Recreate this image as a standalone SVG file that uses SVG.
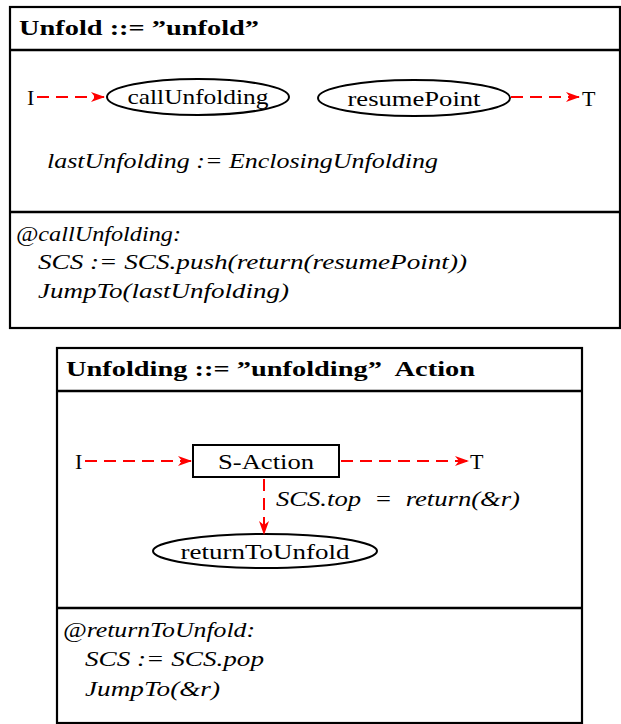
<svg xmlns="http://www.w3.org/2000/svg" width="621" height="724" viewBox="0 0 621 724">
<defs>
<marker id="ah" viewBox="0 0 14 10" refX="13" refY="5" markerWidth="14" markerHeight="10" markerUnits="userSpaceOnUse" orient="auto">
<path d="M0,0 L14,5 L0,10 L4,5 Z" fill="#ff0000"/>
</marker>
</defs>
<style>
.frame{fill:#fff;stroke:#000;stroke-width:2.2}
.sep{stroke:#000;stroke-width:2.4}
.node{fill:#fff;stroke:#000;stroke-width:2}
.t{font-family:'Liberation Serif','DejaVu Serif',serif;font-size:22px;fill:#000}
.b{font-weight:bold}
.i{font-style:italic}
.pre{white-space:pre}
.edge{fill:none;stroke:#ff0000;stroke-width:2;stroke-dasharray:12,7;marker-end:url(#ah)}
</style>
<g id="unfold">
<rect class="frame" x="10" y="7" width="610" height="321"/>
<line class="sep" x1="10" y1="50" x2="620" y2="50"/>
<line class="sep" x1="10" y1="212" x2="620" y2="212"/>
<text class="t b" x="19" y="35" textLength="240" lengthAdjust="spacingAndGlyphs">Unfold ::= ”unfold”</text>
<text class="t i" x="47" y="168" textLength="391" lengthAdjust="spacingAndGlyphs">lastUnfolding := EnclosingUnfolding</text>
<text class="t i" x="16" y="241" textLength="165" lengthAdjust="spacingAndGlyphs">@callUnfolding:</text>
<text class="t i" x="38" y="269" textLength="429" lengthAdjust="spacingAndGlyphs">SCS := SCS.push(return(resumePoint))</text>
<text class="t i" x="38" y="298" textLength="251" lengthAdjust="spacingAndGlyphs">JumpTo(lastUnfolding)</text>
</g>
<g id="u-I"><text class="t" x="27" y="105">I</text></g>
<g id="u-callUnfolding">
<ellipse class="node" cx="198" cy="97" rx="91" ry="18"/>
<text class="t" x="198" y="104" text-anchor="middle" textLength="141" lengthAdjust="spacingAndGlyphs">callUnfolding</text>
</g>
<g id="u-resumePoint">
<ellipse class="node" cx="414" cy="98" rx="96" ry="18"/>
<text class="t" x="414" y="106" text-anchor="middle" textLength="133" lengthAdjust="spacingAndGlyphs">resumePoint</text>
</g>
<g id="u-T"><text class="t" x="582" y="106">T</text></g>

<g id="unfolding">
<rect class="frame" x="57" y="348" width="525" height="375"/>
<line class="sep" x1="57" y1="391" x2="582" y2="391"/>
<line class="sep" x1="57" y1="608" x2="582" y2="608"/>
<text class="t b pre" x="66" y="376" textLength="409" lengthAdjust="spacingAndGlyphs">Unfolding ::= ”unfolding”  Action</text>
<text class="t i" x="63" y="637" textLength="192" lengthAdjust="spacingAndGlyphs">@returnToUnfold:</text>
<text class="t i" x="85" y="666" textLength="179" lengthAdjust="spacingAndGlyphs">SCS := SCS.pop</text>
<text class="t i" x="85" y="696" textLength="135" lengthAdjust="spacingAndGlyphs">JumpTo(&amp;r)</text>
</g>
<g id="f-I"><text class="t" x="75" y="469">I</text></g>
<g id="f-SAction">
<rect class="node" x="193" y="445" width="146" height="32"/>
<text class="t" x="266" y="469" text-anchor="middle" textLength="96" lengthAdjust="spacingAndGlyphs">S-Action</text>
</g>
<g id="f-T"><text class="t" x="470" y="469">T</text></g>
<g id="f-returnToUnfold">
<ellipse class="node" cx="265" cy="551" rx="112" ry="17"/>
<text class="t" x="265" y="559" text-anchor="middle" textLength="169" lengthAdjust="spacingAndGlyphs">returnToUnfold</text>
</g>

<g id="connectors">
<line class="edge" x1="37" y1="97" x2="104" y2="97"/>
<line class="edge" x1="511" y1="97" x2="579" y2="97"/>
<line class="edge" x1="85" y1="461" x2="191" y2="461"/>
<line class="edge" x1="341" y1="461" x2="468" y2="461"/>
<line class="edge" x1="264" y1="479" x2="264" y2="534"/>
<text class="t i pre" x="276" y="506" textLength="244" lengthAdjust="spacingAndGlyphs">SCS.top  =  return(&amp;r)</text>
</g>
</svg>
